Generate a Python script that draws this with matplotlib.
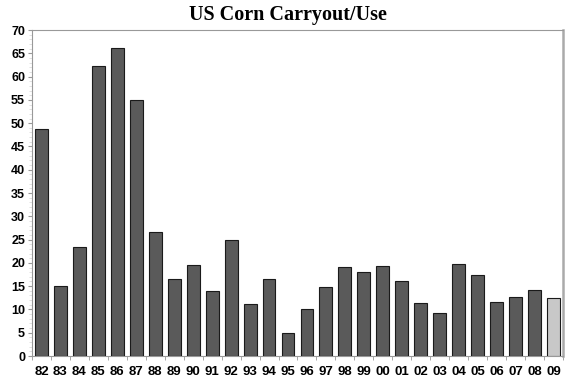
import numpy as np
import matplotlib.pyplot as plt
from matplotlib.ticker import MultipleLocator

# US corn carryout / use (%) by crop year
years = ['82', '83', '84', '85', '86', '87', '88', '89', '90', '91', '92', '93', '94', '95',
         '96', '97', '98', '99', '00', '01', '02', '03', '04', '05', '06', '07', '08', '09']
carryout_use = [48.7, 15.0, 23.4, 62.2, 66.1, 55.0, 26.6, 16.5, 19.6, 13.9, 24.9, 11.2, 16.6, 5.0,
                10.0, 14.9, 19.1, 18.0, 19.4, 16.2, 11.4, 9.3, 19.7, 17.4, 11.6, 12.7, 14.2, 12.5]

colors = ['#5a5a5a'] * (len(years) - 1) + ['#c8c8c8']

fig = plt.figure(figsize=(5.75, 3.85), dpi=100)
ax = fig.add_axes([0.0557, 0.0753, 0.9233, 0.8467])

x = np.arange(len(years))
ax.bar(x, carryout_use, width=0.68, color=colors, edgecolor='#1a1a1a', linewidth=0.8, zorder=3)

ax.set_xlim(-0.5, len(years) - 0.5)
ax.set_ylim(0, 70)
ax.yaxis.set_major_locator(MultipleLocator(5))
ax.yaxis.set_minor_locator(MultipleLocator(1))

# category labels centred under bars, tick marks between bars
ax.set_xticks(x)
ax.set_xticklabels(years, fontsize=9.5, fontweight='bold', family='Liberation Sans')
ax.set_xticks(np.arange(len(years) + 1) - 0.5, minor=True)
ax.tick_params(axis='x', which='major', length=0, pad=7)
ax.tick_params(axis='x', which='minor', length=3, color='#999999', direction='out')

for lab in ax.get_yticklabels():
    lab.set_fontweight('bold')
    lab.set_family('Liberation Sans')
ax.tick_params(axis='y', which='major', labelsize=9, length=3, color='#999999', pad=2)
ax.tick_params(axis='y', which='minor', length=2, color='#dddddd')

for side in ['left', 'bottom', 'top']:
    ax.spines[side].set_color('#999999')
    ax.spines[side].set_linewidth(0.8)
ax.spines['right'].set_color('#aaaaaa')
ax.spines['right'].set_linewidth(1.8)

fig.text(0.5, 0.96, 'US Corn Carryout/Use', ha='center', va='center',
         fontsize=14.5, fontweight='bold', family='Liberation Serif')

fig.savefig('out.png', dpi=100)
